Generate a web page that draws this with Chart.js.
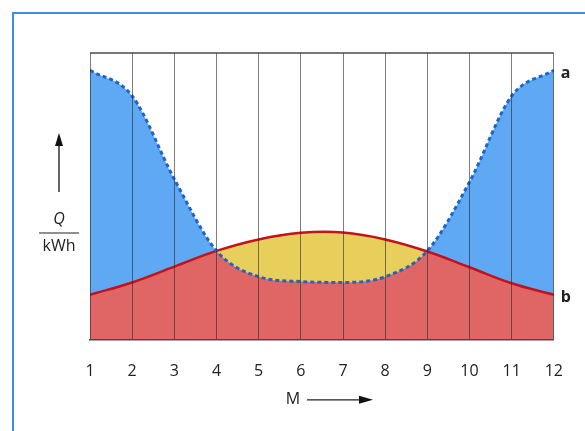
<!DOCTYPE html>
<html>
<head>
<meta charset="utf-8">
<script src="https://cdn.jsdelivr.net/npm/chart.js@4/dist/chart.umd.min.js"></script>
<style>
  html, body { margin: 0; padding: 0; background: #fff; overflow: hidden; }
  #wrap { position: relative; width: 585px; height: 431px; }
  #frame { position: absolute; left: 12px; top: 12px; width: 620px; height: 480px; border: 2px solid #3f8fe8; box-sizing: border-box; }
  #chart { position: absolute; left: 0; top: 0; }
</style>
</head>
<body>
<div id="wrap">
  <div id="frame"></div>
  <canvas id="chart" width="585" height="431"></canvas>
</div>
<script>
// Monat 1..12
const months = [1, 2, 3, 4, 5, 6, 7, 8, 9, 10, 11, 12];
// Kurve a (gestrichelt, blau)
const seriesA = [94, 85, 56, 31, 22, 20.3, 20, 22, 31, 55, 85, 94];
// Kurve b (rot)
const seriesB = [15.7, 20, 25.5, 31, 35, 37.3, 37.4, 35, 30.8, 25.3, 19.7, 15.7];
const yRange = [0, 100];

const BLUE_FILL = '#5fa9f4';
const BLUE_LINE = '#1f64c8';
const RED_FILL = '#e06666';
const RED_LINE = '#c4121c';
const YELLOW_FILL = '#e8cf5c';
const TEXT = '#222';
const FONT = '"Open Sans", "Noto Sans", sans-serif';

function toPoints(ys) {
  return months.map((m, i) => ({ x: m, y: ys[i] }));
}

// Beschriftungen: a/b, Q/kWh mit Pfeil, M mit Pfeil
const annotations = {
  id: 'annotations',
  afterDraw(chart) {
    const { ctx, chartArea, scales: { x, y } } = chart;
    ctx.save();
    ctx.fillStyle = TEXT;
    ctx.strokeStyle = TEXT;

    // Rahmen oben
    ctx.lineWidth = 1.5;
    ctx.strokeStyle = '#4a4a4a';
    ctx.beginPath();
    ctx.moveTo(chartArea.left, chartArea.top);
    ctx.lineTo(chartArea.right, chartArea.top);
    ctx.stroke();

    // Kurvenbeschriftung
    ctx.font = 'bold 16px ' + FONT;
    ctx.textAlign = 'left';
    ctx.textBaseline = 'middle';
    const xEnd = x.getPixelForValue(months[months.length - 1]);
    ctx.fillText('a', xEnd + 7, y.getPixelForValue(seriesA[seriesA.length - 1]) + 3);
    ctx.fillText('b', xEnd + 7, y.getPixelForValue(seriesB[seriesB.length - 1]) + 3);

    // Y-Achse: Pfeil nach oben
    const ax = chartArea.left - 31;
    ctx.strokeStyle = '#333';
    ctx.fillStyle = '#111';
    ctx.lineWidth = 1.5;
    ctx.beginPath();
    ctx.moveTo(ax, chartArea.top + 139);
    ctx.lineTo(ax, chartArea.top + 90);
    ctx.stroke();
    ctx.beginPath();
    ctx.moveTo(ax, chartArea.top + 80);
    ctx.lineTo(ax - 4, chartArea.top + 93);
    ctx.lineTo(ax + 4, chartArea.top + 93);
    ctx.closePath();
    ctx.fill();

    // Q / kWh
    ctx.fillStyle = TEXT;
    ctx.textAlign = 'center';
    ctx.font = 'italic 16px ' + FONT;
    ctx.fillText('Q', ax, chartArea.top + 166);
    ctx.lineWidth = 1.2;
    ctx.strokeStyle = '#222';
    ctx.beginPath();
    ctx.moveTo(ax - 20, chartArea.top + 180);
    ctx.lineTo(ax + 20, chartArea.top + 180);
    ctx.stroke();
    ctx.font = '16px ' + FONT;
    ctx.fillText('kWh', ax, chartArea.top + 193);

    // X-Achse: M mit Pfeil
    const my = chartArea.bottom + 60;
    const mx = chartArea.left + 203;
    ctx.font = '16px ' + FONT;
    ctx.fillText('M', mx, my);
    ctx.strokeStyle = '#222';
    ctx.lineWidth = 1.3;
    ctx.beginPath();
    ctx.moveTo(mx + 14, my);
    ctx.lineTo(mx + 70, my);
    ctx.stroke();
    ctx.fillStyle = '#111';
    ctx.beginPath();
    ctx.moveTo(mx + 80, my);
    ctx.lineTo(mx + 66, my - 4);
    ctx.lineTo(mx + 66, my + 4);
    ctx.closePath();
    ctx.fill();
    ctx.restore();
  }
};

new Chart(document.getElementById('chart'), {
  type: 'line',
  data: {
    datasets: [
      {
        label: 'a',
        data: toPoints(seriesA),
        borderColor: BLUE_LINE,
        borderWidth: 3,
        borderDash: [4, 3],
        pointRadius: 0,
        cubicInterpolationMode: 'monotone',
        fill: { target: 1, above: BLUE_FILL, below: YELLOW_FILL }
      },
      {
        label: 'b',
        data: toPoints(seriesB),
        borderColor: RED_LINE,
        borderWidth: 2.5,
        pointRadius: 0,
        tension: 0.4,
        backgroundColor: RED_FILL,
        fill: 'origin'
      }
    ]
  },
  options: {
    responsive: false,
    animation: false,
    devicePixelRatio: 1,
    layout: { padding: { left: 90, top: 53, right: 31, bottom: 28 } },
    plugins: {
      legend: { display: false },
      tooltip: { enabled: false },
      filler: { drawTime: 'beforeDatasetsDraw' }
    },
    scales: {
      x: {
        type: 'linear',
        min: months[0],
        max: months[months.length - 1],
        ticks: { stepSize: 1, padding: 22, color: TEXT, font: { family: FONT, size: 16 } },
        grid: { color: 'rgba(40,40,40,0.6)', lineWidth: 1, drawTicks: false, z: 1 },
        border: { color: '#4a4a4a', width: 1.5, z: 1 }
      },
      y: {
        min: yRange[0],
        max: yRange[1],
        ticks: { display: false },
        grid: { display: false, drawTicks: false },
        border: { display: false }
      }
    }
  },
  plugins: [annotations]
});
</script>
</body>
</html>
